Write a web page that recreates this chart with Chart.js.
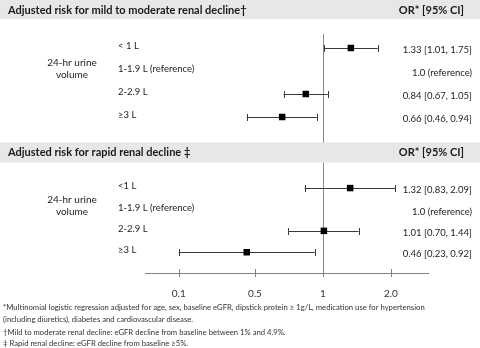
<!DOCTYPE html>
<html>
<head>
<meta charset="utf-8">
<script src="https://cdn.jsdelivr.net/npm/chart.js@4/dist/chart.umd.min.js"></script>
<style>
  html, body { margin: 0; padding: 0; background: #fff; }
  #wrap { width: 480px; height: 348px; position: relative; }
</style>
</head>
<body>
<div id="wrap"><canvas id="forest"></canvas></div>
<script>
// categories
const urineMild = ['< 1 L', '1-1.9 L (reference)', '2-2.9 L', '\u22653 L']
const urineRapid = ['<1 L', '1-1.9 L (reference)', '2-2.9 L', '\u22653 L']

// odds ratios and 95% CI (null = reference group)
const mildOR = [1.33, null, 0.84, 0.66]
const mildLow = [1.01, null, 0.67, 0.46]
const mildHigh = [1.75, null, 1.05, 0.94]

const rapidOR = [1.32, null, 1.01, 0.46]
const rapidLow = [0.83, null, 0.70, 0.23]
const rapidHigh = [2.09, null, 1.44, 0.92]

// axis ticks as drawn in the figure
const tickValues = [0.23, 0.5, 1, 2]
const tickLabels = ['0.1', '0.5', '1', '2.0']

const sectionTitles = ['Adjusted risk for mild to moderate renal decline\u2020', 'Adjusted risk for rapid renal decline \u2021']
const columnTitle = 'OR* [95% CI]'
const groupLabel = ['24-hr urine', 'volume']
const footnotes = [
  '*Multinomial logistic regression adjusted for age, sex, baseline eGFR, dipstick protein \u2265 1g/L, medication use for hypertension',
  '(including diuretics), diabetes and cardiovascular disease.',
  '\u2020Mild to moderate renal decline: eGFR decline from baseline between 1% and 4.9%.',
  '\u2021 Rapid renal decline: eGFR decline from baseline \u22655%.'
]

const FONT = 'Lato, "Open Sans", sans-serif'

// row position (in y-scale units) for section g, item i
const rowY = (g, i) => g === 0 ? 1 + i : 7.09 + 0.93 * i

const fmt = (or, lo, hi) => or == null ? '1.0 (reference)' : `${or.toFixed(2)} [${lo.toFixed(2)}, ${hi.toFixed(2)}]`

const sections = [
  { labels: urineMild, or: mildOR, low: mildLow, high: mildHigh },
  { labels: urineRapid, or: rapidOR, low: rapidLow, high: rapidHigh },
]

const forestDecor = {
  id: 'forestDecor',
  beforeDatasetsDraw(chart) {
    const { ctx, chartArea, scales: { x, y } } = chart
    ctx.save()
    ctx.lineWidth = 1

    // line of no effect
    const x1 = Math.round(x.getPixelForValue(1)) + 0.5
    ctx.strokeStyle = '#8a8a8a'
    ctx.beginPath()
    ctx.moveTo(x1, chartArea.top)
    ctx.lineTo(x1, chartArea.bottom + 4)
    ctx.stroke()

    // tick marks across the axis
    ctx.strokeStyle = '#7f7f7f'
    tickValues.forEach(v => {
      const px = Math.round(x.getPixelForValue(v)) + 0.5
      ctx.beginPath()
      ctx.moveTo(px, chartArea.bottom - 4)
      ctx.lineTo(px, chartArea.bottom + 4)
      ctx.stroke()
    })

    // section header bands
    ctx.fillStyle = '#e7e7e7'
    ctx.fillRect(0, 0, chart.width, 19)
    const mid = (y.getPixelForValue(rowY(0, 3)) + y.getPixelForValue(rowY(1, 0))) / 2
    ctx.fillRect(0, mid - 10, chart.width, 20)

    // confidence intervals
    ctx.strokeStyle = '#3a3a3a'
    sections.forEach((s, g) => {
      s.or.forEach((v, i) => {
        if (v == null) return
        const py = Math.round(y.getPixelForValue(rowY(g, i))) + 0.5
        const a = x.getPixelForValue(s.low[i])
        const b = x.getPixelForValue(s.high[i])
        ctx.beginPath()
        ctx.moveTo(a, py)
        ctx.lineTo(b, py)
        ctx.moveTo(Math.round(a) + 0.5, py - 3.5)
        ctx.lineTo(Math.round(a) + 0.5, py + 3.5)
        ctx.moveTo(Math.round(b) + 0.5, py - 3.5)
        ctx.lineTo(Math.round(b) + 0.5, py + 3.5)
        ctx.stroke()
      })
    })
    ctx.restore()
  },
  afterDraw(chart) {
    const { ctx, scales: { y } } = chart
    ctx.save()
    ctx.textBaseline = 'middle'
    ctx.fillStyle = '#1a1a1a'

    const mid = (y.getPixelForValue(rowY(0, 3)) + y.getPixelForValue(rowY(1, 0))) / 2
    const heads = [10, mid]
    heads.forEach((hy, g) => {
      ctx.font = `bold 11px ${FONT}`
      ctx.textAlign = 'left'
      ctx.fillText(sectionTitles[g], 8, hy)
      ctx.textAlign = 'right'
      ctx.fillText(columnTitle, 464, hy)
    })

    sections.forEach((s, g) => {
      ctx.font = `9.5px ${FONT}`
      ctx.fillStyle = '#222'
      s.labels.forEach((lab, i) => {
        const py = y.getPixelForValue(rowY(g, i))
        ctx.textAlign = 'left'
        ctx.fillText(lab, 118, py - 2)
        ctx.textAlign = 'right'
        ctx.fillText(fmt(s.or[i], s.low[i], s.high[i]), 472, py + 2)
      })
      const c = (y.getPixelForValue(rowY(g, 0)) + y.getPixelForValue(rowY(g, 3))) / 2
      ctx.font = `10px ${FONT}`
      ctx.textAlign = 'center'
      ctx.fillText(groupLabel[0], 72, c - 20)
      ctx.fillText(groupLabel[1], 72, c - 8)
    })

    ctx.font = `7.7px ${FONT}`
    ctx.fillStyle = '#333'
    ctx.textAlign = 'left'
    const fy = [308, 320, 333, 344]
    footnotes.forEach((t, i) => ctx.fillText(t, 3, fy[i]))
    ctx.restore()
  }
}

const makeSet = (g) => ({
  data: sections[g].or.map((v, i) => ({ x: v, y: rowY(g, i) })),
  pointStyle: 'rect',
  pointRadius: 4.6,
  pointHoverRadius: 4.6,
  backgroundColor: '#000',
  borderWidth: 0,
})

new Chart(document.getElementById('forest'), {
  type: 'scatter',
  data: { datasets: [makeSet(0), makeSet(1)] },
  options: {
    responsive: true,
    maintainAspectRatio: false,
    animation: false,
    layout: { padding: { left: 145, right: 52, top: 34, bottom: 0 } },
    plugins: { legend: { display: false }, tooltip: { enabled: false } },
    scales: {
      x: {
        type: 'logarithmic',
        min: 0.163,
        max: 2.92,
        afterBuildTicks: (s) => { s.ticks = tickValues.map(v => ({ value: v })) },
        afterFit: (s) => { s.height = 75 },
        grid: { display: false, drawTicks: false },
        border: { color: '#7f7f7f', width: 1 },
        ticks: {
          autoSkip: false,
          maxRotation: 0,
          padding: 15,
          color: '#333',
          font: { family: FONT, size: 10 },
          callback: (v, i) => tickLabels[i],
        },
      },
      y: {
        display: false,
        reverse: true,
        min: 0.391,
        max: 10.783,
      },
    },
  },
  plugins: [forestDecor],
})
</script>
</body>
</html>
